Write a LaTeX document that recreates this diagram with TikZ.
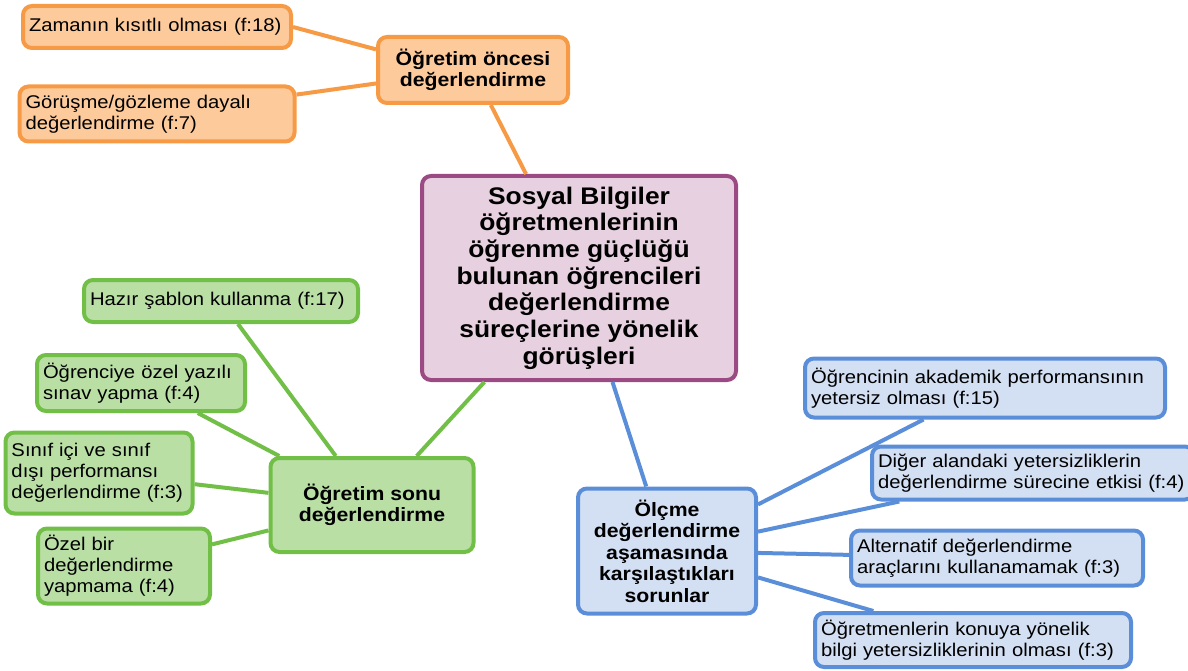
\documentclass[tikz,border=0pt]{standalone}
\usepackage{fontspec}
\setmainfont{Liberation Sans}[FakeStretch=1.1]
\usetikzlibrary{positioning}
\definecolor{orLine}{HTML}{F79A45}\definecolor{orFill}{HTML}{FDCA9C}
\definecolor{grLine}{HTML}{72BF48}\definecolor{grFill}{HTML}{B9DFA5}
\definecolor{blLine}{HTML}{5B8ED8}\definecolor{blFill}{HTML}{D3DFF3}
\definecolor{puLine}{HTML}{9B4A83}\definecolor{puFill}{HTML}{E7D0DF}
\tikzset{box/.style={draw,rounded corners=9pt,line width=4pt,inner sep=6pt},
  leaf/.style={box,align=left,font=\fontsize{18.4}{21}\selectfont},
  hub/.style={box,align=center,font=\fontsize{19.3}{21.5}\selectfont\bfseries},
  orbox/.style={draw=orLine,fill=orFill},grbox/.style={draw=grLine,fill=grFill},
  blbox/.style={draw=blLine,fill=blFill},
  link/.style={line width=4pt}}

\begin{document}
\begin{tikzpicture}[x=1pt,y=-1pt]
\useasboundingbox (0,0) rectangle (1188,671);
% --- centre
\node[box,draw=puLine,fill=puFill,align=center,font=\fontsize{24}{26.7}\selectfont\bfseries,
  minimum width=314pt,minimum height=204pt] (ana) at (579,278)
  {Sosyal Bilgiler\\öğretmenlerinin\\öğrenme güçlüğü\\bulunan öğrencileri\\değerlendirme\\süreçlerine yönelik\\görüşleri};
% --- before teaching (orange)
\node[hub,orbox,minimum width=190pt,minimum height=66pt] (oncesi) at (473,70) {Öğretim öncesi\\değerlendirme};
\node[leaf,orbox,text width=256pt,minimum height=42pt] (zaman) at (157,27) {Zamanın kısıtlı olması (f:18)};
\node[leaf,orbox,text width=263pt,minimum height=55pt] (gorusme) at (157,114) {Görüşme/gözleme dayalı\\değerlendirme (f:7)};
% --- end of teaching (green)
\node[hub,grbox,minimum width=203pt,minimum height=94pt] (sonu) at (372,505) {Öğretim sonu\\değerlendirme};
\node[leaf,grbox,text width=262pt,minimum height=42pt] (hazir) at (221,301) {Hazır şablon kullanma (f:17)};
\node[leaf,grbox,text width=196pt,minimum height=56pt] (yazili) at (141,383) {Öğrenciye özel yazılı\\sınav yapma (f:4)};
\node[leaf,grbox,text width=175pt,minimum height=81pt] (sinif) at (99,473) {Sınıf içi ve sınıf\\dışı performansı\\değerlendirme (f:3)};
\node[leaf,grbox,text width=160pt,minimum height=75pt] (ozel) at (124,566) {Özel bir\\değerlendirme\\yapmama (f:4)};
% --- measurement problems (blue)
\node[hub,blbox,minimum width=178pt,minimum height=125pt] (olcme) at (667,551) {Ölçme\\değerlendirme\\aşamasında\\karşılaştıkları\\sorunlar};
\node[leaf,blbox,text width=348pt,minimum height=59pt] (akademik) at (985,388) {Öğrencinin akademik performansının\\yetersiz olması (f:15)};
\node[leaf,blbox,text width=310pt,minimum height=53pt] (diger) at (1033,473) {Diğer alandaki yetersizliklerin\\değerlendirme sürecine etkisi (f:4)};
\node[leaf,blbox,text width=280pt,minimum height=55pt] (alternatif) at (997,558) {Alternatif değerlendirme\\araçlarını kullanamamak (f:3)};
\node[leaf,blbox,text width=304pt,minimum height=54pt] (bilgi) at (973,640) {Öğretmenlerin konuya yönelik\\bilgi yetersizliklerinin olması (f:3)};
% --- links
\draw[link,orLine] (oncesi) -- (ana);
\draw[link,orLine] (zaman.east) -- (oncesi.168);
\draw[link,orLine] (gorusme) -- (oncesi);
\draw[link,grLine] (sonu) -- (ana);
\foreach \leaf in {hazir,yazili,sinif,ozel} \draw[link,grLine] (\leaf) -- (sonu);
\draw[link,blLine] (ana) -- (olcme);
\foreach \leaf in {akademik,diger,alternatif,bilgi} \draw[link,blLine] (olcme) -- (\leaf);
\end{tikzpicture}
\end{document}
